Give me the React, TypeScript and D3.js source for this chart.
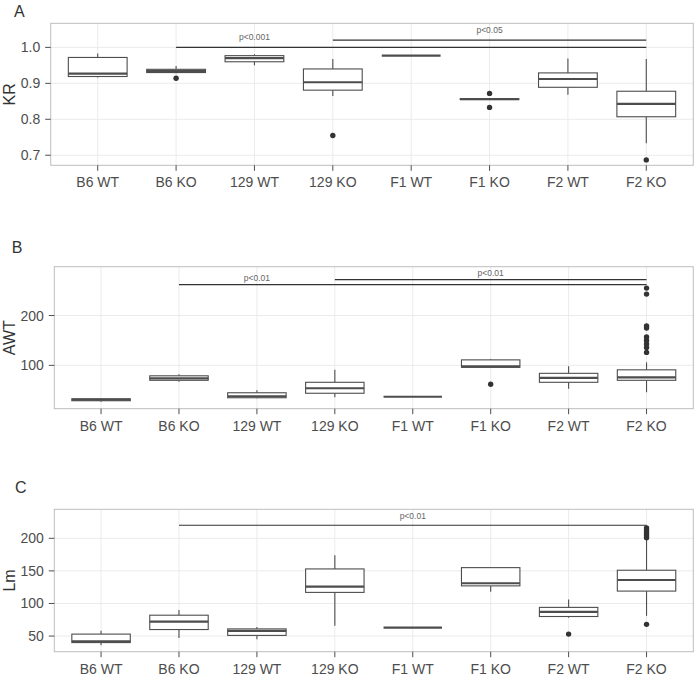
import React from 'react';
import * as d3 from 'd3';

const categories = ["B6 WT", "B6 KO", "129 WT", "129 KO", "F1 WT", "F1 KO", "F2 WT", "F2 KO"];

// box stats per group: [lower whisker, q1, median, q3, upper whisker]
const krStats = [
  [0.916, 0.919, 0.927, 0.972, 0.983],
  [0.928, 0.930, 0.934, 0.939, 0.948],
  [0.950, 0.960, 0.970, 0.977, 0.981],
  [0.865, 0.881, 0.903, 0.940, 0.968],
  [0.977, 0.977, 0.977, 0.977, 0.977],
  [0.855, 0.855, 0.856, 0.857, 0.857],
  [0.868, 0.889, 0.912, 0.929, 0.969],
  [0.733, 0.807, 0.843, 0.878, 0.968],
];
const krOutliers = [[], [0.914], [], [0.755], [], [0.872, 0.833], [], [0.687]];
const krTicks = [0.7, 0.8, 0.9, 1.0];

const awtStats = [
  [27, 29, 31, 33, 34],
  [67, 70, 74, 79, 82],
  [34, 35, 38, 45, 50],
  [36, 44, 54, 66, 91],
  [37, 37, 37, 37, 37],
  [96, 96, 98, 111, 113],
  [53, 66, 75, 84, 98],
  [46, 70, 76, 91, 106],
];
const awtOutliers = [[], [], [], [], [], [62], [], [255, 243, 179, 175, 157, 150, 143, 136, 126]];
const awtTicks = [100, 200];

const lmStats = [
  [36, 40, 42, 53, 58],
  [47, 60, 72, 82, 90],
  [45, 51, 58, 61, 64],
  [66, 117, 126, 153, 174],
  [63, 63, 63, 63, 63],
  [118, 127, 131, 155, 155],
  [78, 80, 87, 94, 106],
  [81, 119, 136, 151, 198],
];
const lmOutliers = [[], [], [], [], [], [], [53], [68, 201, 204, 207, 210, 213, 216]];
const lmTicks = [50, 100, 150, 200];

// significance brackets: from, to, line value, label, label position, label value
const krSig = [
  { from: "B6 KO", to: "F2 KO", y: 1.0, label: "p<0.001", at: "129 WT", ly: 1.029 },
  { from: "129 KO", to: "F2 KO", y: 1.02, label: "p<0.05", at: "F1 KO", ly: 1.048 },
];
const awtSig = [
  { from: "B6 KO", to: "F2 KO", y: 262, label: "p<0.01", at: "129 WT", ly: 275 },
  { from: "129 KO", to: "F2 KO", y: 272, label: "p<0.01", at: "F1 KO", ly: 285 },
];
const lmSig = [
  { from: "B6 KO", to: "F2 KO", y: 220, label: "p<0.01", at: "F1 WT", ly: 234 },
];

const FONT = "'Liberation Sans', Arial, Helvetica, sans-serif";

const panels = [
  { letter: "A", title: "KR", stats: krStats, outliers: krOutliers, ticks: krTicks, fmt: d3.format(".1f"), sig: krSig,
    domain: [0.672, 1.067], left: 50.7, top: 23.3, bottom: 165.3, lx: 14, ly: 16.7 },
  { letter: "B", title: "AWT", stats: awtStats, outliers: awtOutliers, ticks: awtTicks, fmt: d3.format("d"), sig: awtSig,
    domain: [13, 298], left: 54.3, top: 266.7, bottom: 408.7, lx: 11.7, ly: 252.7 },
  { letter: "C", title: "Lm", stats: lmStats, outliers: lmOutliers, ticks: lmTicks, fmt: d3.format("d"), sig: lmSig,
    domain: [26, 244.5], left: 54.3, top: 509.3, bottom: 651.7, lx: 15, ly: 492.7 },
];

const RIGHT = 693.3;

function Panel({ p }: { p: any }) {
  const x = d3.scalePoint().domain(categories).range([0, 1]);
  const step = (RIGHT - p.left) / (categories.length - 1 + 1.2);
  const cx = (c: string) => p.left + step * 0.6 + step * categories.indexOf(c);
  const y = d3.scaleLinear().domain(p.domain).range([p.bottom, p.top]);
  const bw = step * 0.75;
  const grid = "#ebebeb";
  const boxCol = "#4d4d4d";
  return (
    <g fontFamily={FONT}>
      <text x={p.lx} y={p.ly} fontSize={16} fill="#333">{p.letter}</text>
      <text transform={`translate(15,${(p.top + p.bottom) / 2}) rotate(-90)`} textAnchor="middle" fontSize={16} fill="#333">{p.title}</text>
      {/* grid */}
      {p.ticks.map((t: number) => (
        <line key={"gy" + t} x1={p.left} x2={RIGHT} y1={y(t)} y2={y(t)} stroke={grid} strokeWidth={1} />
      ))}
      {categories.map((c) => (
        <line key={"gx" + c} x1={cx(c)} x2={cx(c)} y1={p.top} y2={p.bottom} stroke={grid} strokeWidth={1} />
      ))}
      {/* boxes */}
      {categories.map((c, i) => {
        const [lo, q1, med, q3, hi] = p.stats[i];
        const xc = cx(c);
        return (
          <g key={"b" + c}>
            <line x1={xc} x2={xc} y1={y(hi)} y2={y(q3)} stroke={boxCol} strokeWidth={1.1} />
            <line x1={xc} x2={xc} y1={y(q1)} y2={y(lo)} stroke={boxCol} strokeWidth={1.1} />
            <rect x={xc - bw / 2} y={y(q3)} width={bw} height={Math.max(0, y(q1) - y(q3))} fill="#fff" stroke={boxCol} strokeWidth={1.1} />
            <line x1={xc - bw / 2} x2={xc + bw / 2} y1={y(med)} y2={y(med)} stroke={boxCol} strokeWidth={2.2} />
            {p.outliers[i].map((v: number, j: number) => (
              <circle key={j} cx={xc} cy={y(v)} r={2.7} fill="#333" />
            ))}
          </g>
        );
      })}
      {/* significance */}
      {p.sig.map((s: any, i: number) => (
        <g key={"s" + i}>
          <line x1={cx(s.from)} x2={cx(s.to)} y1={y(s.y)} y2={y(s.y)} stroke="#333" strokeWidth={1.2} />
          <text x={cx(s.at)} y={y(s.ly)} textAnchor="middle" dominantBaseline="central" fontSize={8.5} fill="#666">{s.label}</text>
        </g>
      ))}
      {/* frame */}
      <rect x={p.left} y={p.top} width={RIGHT - p.left} height={p.bottom - p.top} fill="none" stroke="#bdbdbd" strokeWidth={1} />
      {/* y axis */}
      {p.ticks.map((t: number) => (
        <g key={"ty" + t}>
          <line x1={p.left - 5.5} x2={p.left} y1={y(t)} y2={y(t)} stroke="#4d4d4d" strokeWidth={1} />
          <text x={p.left - 10.5} y={y(t)} textAnchor="end" dominantBaseline="central" fontSize={14} fill="#4d4d4d">{p.fmt(t)}</text>
        </g>
      ))}
      {/* x axis */}
      {categories.map((c) => (
        <g key={"tx" + c}>
          <line x1={cx(c)} x2={cx(c)} y1={p.bottom} y2={p.bottom + 5.5} stroke="#4d4d4d" strokeWidth={1} />
          <text x={cx(c)} y={p.bottom + 22} textAnchor="middle" fontSize={14} fill="#4d4d4d">{c}</text>
        </g>
      ))}
    </g>
  );
}

export default function App() {
  return (
    <svg width={697} height={676} style={{ position: 'absolute', left: 0, top: 0, background: '#fff' }}>
      <rect width={697} height={676} fill="#fff" />
      {panels.map((p) => <Panel key={p.letter} p={p} />)}
    </svg>
  );
}
